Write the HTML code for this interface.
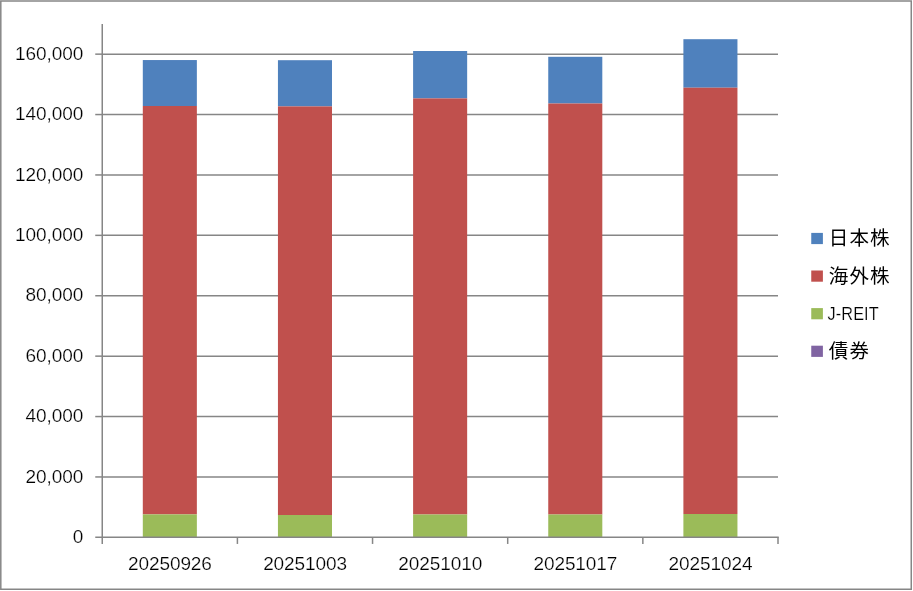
<!DOCTYPE html>
<html lang="ja"><head><meta charset="utf-8"><title>chart</title>
<style>
html,body{margin:0;padding:0;background:#fff;}
body{width:913px;height:591px;overflow:hidden;}
svg{display:block;}
text{font-family:"Liberation Sans","Noto Sans CJK JP",sans-serif;fill:#000;}
.n{font-size:19px;letter-spacing:-0.08px;stroke:#fff;stroke-width:0.22px;}
.l{font-size:19.5px;}
</style></head><body>
<svg width="913" height="591" viewBox="0 0 913 591">
<rect x="0" y="0" width="913" height="591" fill="#fff"/>
<rect x="0.8" y="1.0" width="910.45" height="588.25" fill="none" stroke="#868686" stroke-width="1.5"/>
<g stroke="#868686" stroke-width="1.5" fill="none">
<line x1="102.25" y1="476.95" x2="778.00" y2="476.95"/>
<line x1="102.25" y1="416.55" x2="778.00" y2="416.55"/>
<line x1="102.25" y1="356.15" x2="778.00" y2="356.15"/>
<line x1="102.25" y1="295.75" x2="778.00" y2="295.75"/>
<line x1="102.25" y1="235.35" x2="778.00" y2="235.35"/>
<line x1="102.25" y1="174.95" x2="778.00" y2="174.95"/>
<line x1="102.25" y1="114.55" x2="778.00" y2="114.55"/>
<line x1="102.25" y1="54.15" x2="778.00" y2="54.15"/>
</g>
<rect x="142.80" y="60.05" width="54.06" height="45.95" fill="#4f81bd"/>
<rect x="142.80" y="106.00" width="54.06" height="408.40" fill="#c0504d"/>
<rect x="142.80" y="514.40" width="54.06" height="22.95" fill="#9bbb59"/>
<rect x="277.94" y="60.20" width="54.06" height="46.20" fill="#4f81bd"/>
<rect x="277.94" y="106.40" width="54.06" height="408.60" fill="#c0504d"/>
<rect x="277.94" y="515.00" width="54.06" height="22.35" fill="#9bbb59"/>
<rect x="413.10" y="51.00" width="54.06" height="47.40" fill="#4f81bd"/>
<rect x="413.10" y="98.40" width="54.06" height="416.10" fill="#c0504d"/>
<rect x="413.10" y="514.50" width="54.06" height="22.85" fill="#9bbb59"/>
<rect x="548.25" y="56.80" width="54.06" height="46.70" fill="#4f81bd"/>
<rect x="548.25" y="103.50" width="54.06" height="411.00" fill="#c0504d"/>
<rect x="548.25" y="514.50" width="54.06" height="22.85" fill="#9bbb59"/>
<rect x="683.39" y="39.20" width="54.06" height="48.50" fill="#4f81bd"/>
<rect x="683.39" y="87.70" width="54.06" height="426.30" fill="#c0504d"/>
<rect x="683.39" y="514.00" width="54.06" height="23.35" fill="#9bbb59"/>
<g stroke="#868686" stroke-width="1.5" fill="none">
<line x1="102.25" y1="24" x2="102.25" y2="543.95"/>
<line x1="95.25" y1="537.35" x2="778.75" y2="537.35"/>
<line x1="95.25" y1="476.95" x2="102.25" y2="476.95"/>
<line x1="95.25" y1="416.55" x2="102.25" y2="416.55"/>
<line x1="95.25" y1="356.15" x2="102.25" y2="356.15"/>
<line x1="95.25" y1="295.75" x2="102.25" y2="295.75"/>
<line x1="95.25" y1="235.35" x2="102.25" y2="235.35"/>
<line x1="95.25" y1="174.95" x2="102.25" y2="174.95"/>
<line x1="95.25" y1="114.55" x2="102.25" y2="114.55"/>
<line x1="95.25" y1="54.15" x2="102.25" y2="54.15"/>
<line x1="237.40" y1="537.35" x2="237.40" y2="543.95"/>
<line x1="372.55" y1="537.35" x2="372.55" y2="543.95"/>
<line x1="507.70" y1="537.35" x2="507.70" y2="543.95"/>
<line x1="642.85" y1="537.35" x2="642.85" y2="543.95"/>
<line x1="778.00" y1="537.35" x2="778.00" y2="543.95"/>
</g>
<text class="n" x="83.2" y="543.05" text-anchor="end">0</text>
<text class="n" x="83.2" y="482.65" text-anchor="end">20,000</text>
<text class="n" x="83.2" y="422.25" text-anchor="end">40,000</text>
<text class="n" x="83.2" y="361.85" text-anchor="end">60,000</text>
<text class="n" x="83.2" y="301.45" text-anchor="end">80,000</text>
<text class="n" x="83.2" y="241.05" text-anchor="end">100,000</text>
<text class="n" x="83.2" y="180.65" text-anchor="end">120,000</text>
<text class="n" x="83.2" y="120.25" text-anchor="end">140,000</text>
<text class="n" x="83.2" y="59.85" text-anchor="end">160,000</text>
<text class="n" x="169.92" y="570" text-anchor="middle">20250926</text>
<text class="n" x="305.08" y="570" text-anchor="middle">20251003</text>
<text class="n" x="440.23" y="570" text-anchor="middle">20251010</text>
<text class="n" x="575.38" y="570" text-anchor="middle">20251017</text>
<text class="n" x="710.53" y="570" text-anchor="middle">20251024</text>
<rect x="811.25" y="232.90" width="11.65" height="11.2" fill="#4f81bd"/>
<text class="l" x="828.8" y="245.20" style="letter-spacing:1.1px">日本株</text>
<rect x="811.25" y="270.50" width="11.65" height="11.2" fill="#c0504d"/>
<text class="l" x="828.8" y="282.80" style="letter-spacing:1.1px">海外株</text>
<rect x="811.25" y="308.10" width="11.65" height="11.2" fill="#9bbb59"/>
<text class="n" transform="translate(827.6 319.60) scale(0.925 1)" x="0" y="0" style="font-size:17.6px;letter-spacing:0.1px">J-REIT</text>
<rect x="811.25" y="345.70" width="11.65" height="11.2" fill="#8064a2"/>
<text class="l" x="828.8" y="358.00" style="letter-spacing:1.1px">債券</text>
</svg>
</body></html>
